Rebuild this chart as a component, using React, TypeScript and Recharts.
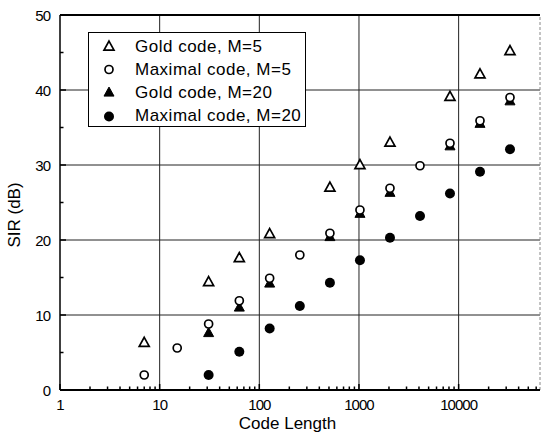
import React from 'react';
import { ScatterChart, Scatter, XAxis, YAxis, CartesianGrid, ReferenceLine } from 'recharts';

// ---- Data ----
const goldLengths = [7, 31, 63, 127, 511, 1023, 2047, 8191, 16383, 32767];
const maximalLengthsM5 = [7, 15, 31, 63, 127, 255, 511, 1023, 2047, 4095, 8191, 16383, 32767];
const goldLengthsM20 = [31, 63, 127, 511, 1023, 2047, 8191, 16383, 32767];
const maximalLengthsM20 = [31, 63, 127, 255, 511, 1023, 2047, 4095, 8191, 16383, 32767];

const goldM5 = [6.3, 14.4, 17.6, 20.8, 27.0, 30.0, 33.0, 39.1, 42.1, 45.2];
const maximalM5 = [2.0, 5.6, 8.8, 11.9, 14.9, 18.0, 20.9, 24.0, 26.9, 29.9, 32.9, 35.9, 39.0];
const goldM20 = [7.6, 11.0, 14.2, 20.4, 23.5, 26.3, 32.5, 35.5, 38.5];
const maximalM20 = [2.0, 5.1, 8.2, 11.2, 14.3, 17.3, 20.3, 23.2, 26.2, 29.1, 32.1];

const seriesNames = ['Gold code, M=5', 'Maximal code, M=5', 'Gold code, M=20', 'Maximal code, M=20'];

const xMajorTicks = [1, 10, 100, 1000, 10000];
const xMinorMultipliers = [2, 3, 4, 5, 6, 7, 8, 9];
const yTicks = [0, 5, 10, 15, 20, 25, 30, 35, 40, 45, 50];
const yLabelTicks = [0, 10, 20, 30, 40, 50];

const X_DOMAIN: [number, number] = [1, 65536];

const xAllTicks: number[] = [];
xMajorTicks.forEach((m) => {
  xAllTicks.push(m);
  xMinorMultipliers.forEach((k) => {
    const v = m * k;
    if (v < X_DOMAIN[1]) xAllTicks.push(v);
  });
});
xAllTicks.sort((a, b) => a - b);

const zip = (xs: number[], ys: number[]) => xs.map((x, i) => ({ x, y: ys[i] }));

const FONT = '"Liberation Sans", Arial, sans-serif';
const TICK_MARGIN = 10;

// ---- Marker shapes ----
const triPath = (cx: number, cy: number, s: number) => {
  const h = s * 0.9;
  return `M${cx},${cy - h * 0.6} L${cx + s / 2},${cy + h * 0.4} L${cx - s / 2},${cy + h * 0.4} Z`;
};

const OpenTriangle = (p: any) => (
  <path d={triPath(p.cx, p.cy, 10)} fill="#fff" stroke="#000" strokeWidth={1.7} strokeLinejoin="miter" />
);
const FilledTriangle = (p: any) => (
  <path d={triPath(p.cx, p.cy, 10)} fill="#000" stroke="#000" strokeWidth={1} />
);
const OpenCircle = (p: any) => (
  <circle cx={p.cx} cy={p.cy} r={4} fill="#fff" stroke="#000" strokeWidth={1.7} />
);
const FilledCircle = (p: any) => <circle cx={p.cx} cy={p.cy} r={5} fill="#000" stroke="none" />;

const shapes = [OpenTriangle, OpenCircle, FilledTriangle, FilledCircle];

// ---- Ticks ----
const isPow10 = (v: number) => Math.abs(Math.log10(v) - Math.round(Math.log10(v))) < 1e-9;

const XTick = (props: any) => {
  const { x, y, payload } = props;
  const v = payload.value;
  const major = isPow10(v);
  const axisY = y - TICK_MARGIN;
  return (
    <g>
      <line x1={x} x2={x} y1={axisY} y2={axisY - (major ? 6 : 3.5)} stroke="#000" strokeWidth={1.5} />
      {major && (
        <text
          x={x}
          y={axisY + 20}
          textAnchor="middle"
          fontSize={15}
          letterSpacing={-1}
          fontFamily={FONT}
          fill="#000"
        >
          {v}
        </text>
      )}
    </g>
  );
};

const YTick = (props: any) => {
  const { x, y, payload } = props;
  const v = payload.value;
  const major = yLabelTicks.includes(v);
  const axisX = x + TICK_MARGIN;
  return (
    <g>
      <line x1={axisX} x2={axisX + (major ? 6 : 3.5)} y1={y} y2={y} stroke="#000" strokeWidth={1.5} />
      {major && (
        <text
          x={axisX - 10}
          y={y + 5.5}
          textAnchor="end"
          fontSize={15}
          letterSpacing={-1}
          fontFamily={FONT}
          fill="#000"
        >
          {v}
        </text>
      )}
    </g>
  );
};

// ---- Legend overlay ----
const LegendBox = () => (
  <div
    style={{
      position: 'absolute',
      left: 88,
      top: 32,
      width: 218,
      height: 95,
      background: '#fff',
      border: '1px solid #000',
      boxSizing: 'border-box',
      fontFamily: FONT,
      fontSize: 17,
      color: '#000',
    }}
  >
    {seriesNames.map((name, i) => {
      const Shape = shapes[i];
      return (
        <div
          key={name}
          style={{ position: 'absolute', left: 0, top: 2 + i * 23.2, height: 23, display: 'flex', alignItems: 'center' }}
        >
          <svg width={40} height={23} style={{ display: 'block' }}>
            <Shape cx={20} cy={11.5} />
          </svg>
          <span style={{ marginLeft: 6, whiteSpace: 'nowrap', letterSpacing: 0.5 }}>{name}</span>
        </div>
      );
    })}
  </div>
);

export default function App() {
  return (
    <div style={{ position: 'absolute', left: 0, top: 0, width: 541, height: 437, background: '#fff' }}>
      <ScatterChart width={541} height={437} margin={{ top: 15, right: 1, left: 0, bottom: 0 }}>
        <CartesianGrid vertical={false} horizontalValues={[10, 20, 30, 40]} stroke="#222" strokeWidth={1} />
        {[10, 100, 1000, 10000].map((v) => (
          <ReferenceLine key={v} x={v} stroke="#222" strokeWidth={1} ifOverflow="extendDomain" />
        ))}
        <ReferenceLine y={50} stroke="#000" strokeWidth={2} />
        <ReferenceLine x={X_DOMAIN[1]} stroke="#888" strokeWidth={1} strokeDasharray="3 2" />
        <XAxis
          dataKey="x"
          type="number"
          scale="log"
          domain={X_DOMAIN}
          allowDataOverflow
          ticks={xAllTicks}
          interval={0}
          tick={<XTick />}
          tickSize={0}
          tickMargin={TICK_MARGIN}
          height={47}
          axisLine={{ stroke: '#000', strokeWidth: 2 }}
          label={{
            content: () => (
              <text x={287.5} y={429} textAnchor="middle" fontSize={17} fontFamily={FONT} fill="#000">
                Code Length
              </text>
            ),
          }}
        />
        <YAxis
          dataKey="y"
          type="number"
          domain={[0, 50]}
          ticks={yTicks}
          interval={0}
          tick={<YTick />}
          tickSize={0}
          tickMargin={TICK_MARGIN}
          width={60}
          axisLine={{ stroke: '#000', strokeWidth: 1.5 }}
          label={{
            content: () => (
              <text
                x={20}
                y={215}
                textAnchor="middle"
                fontSize={17}
                fontFamily={FONT}
                fill="#000"
                transform="rotate(-90 20 215)"
              >
                SIR (dB)
              </text>
            ),
          }}
        />
        <Scatter name={seriesNames[3]} data={zip(maximalLengthsM20, maximalM20)} shape={FilledCircle} isAnimationActive={false} />
        <Scatter name={seriesNames[2]} data={zip(goldLengthsM20, goldM20)} shape={FilledTriangle} isAnimationActive={false} />
        <Scatter name={seriesNames[1]} data={zip(maximalLengthsM5, maximalM5)} shape={OpenCircle} isAnimationActive={false} />
        <Scatter name={seriesNames[0]} data={zip(goldLengths, goldM5)} shape={OpenTriangle} isAnimationActive={false} />
      </ScatterChart>
      <LegendBox />
    </div>
  );
}
